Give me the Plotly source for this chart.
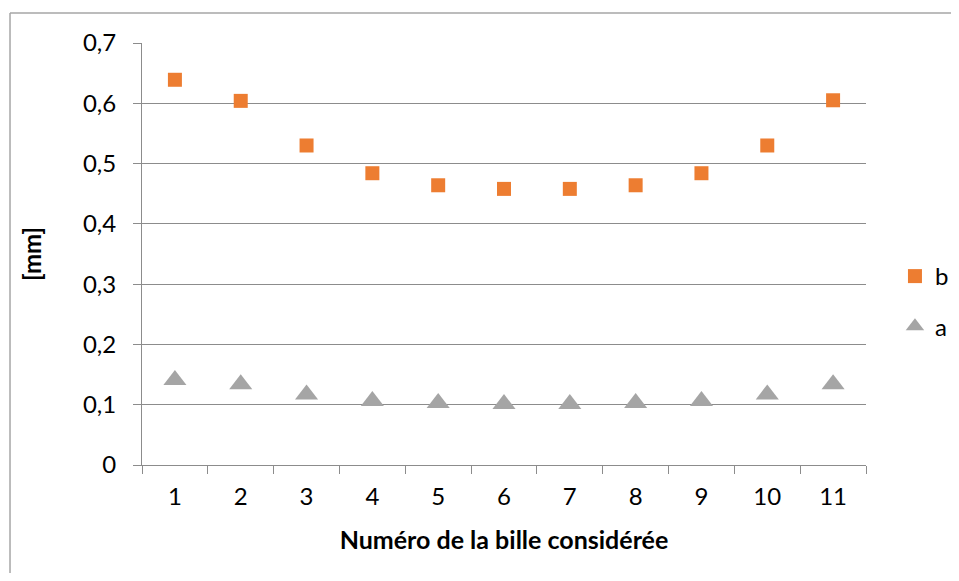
import plotly.graph_objects as go

# Numéro de bille (catégories) et mesures [mm]
billes = ["1", "2", "3", "4", "5", "6", "7", "8", "9", "10", "11"]
b_vals = [0.639, 0.604, 0.530, 0.484, 0.464, 0.458, 0.458, 0.464, 0.484, 0.530, 0.605]
a_vals = [0.141, 0.134, 0.117, 0.106, 0.103, 0.101, 0.101, 0.103, 0.106, 0.117, 0.134]

FONT = "Lato, 'Open Sans', sans-serif"
GRID = "#8c8c8c"
BORDER = "#a6a6a6"
FS = 24

fig = go.Figure()
fig.add_trace(go.Scatter(
    x=billes, y=b_vals, mode="markers", name="b", legendgroup="b",
    marker=dict(symbol="square", size=14, color="#ED7D31"),
))
fig.add_trace(go.Scatter(
    x=billes, y=a_vals, mode="markers", name="a", legendgroup="a",
    marker=dict(symbol="triangle-up", size=20, color="#A5A5A5"),
))

# chart-area border: only the top and left edges are inside the picture
border = dict(type="line", xref="paper", yref="paper",
              line=dict(color=BORDER, width=1.5), layer="below")

# page body has an 8px margin: keep the figure inside the window (no scrollbars)
fig.update_layout(
    width=943, height=565,
    margin=dict(l=134, r=85, t=35, b=108, autoexpand=False),
    paper_bgcolor="white", plot_bgcolor="white",
    separators=", ",
    font=dict(family=FONT, size=FS, color="#000000"),
    legend=dict(
        x=1.04, y=0.50, xanchor="left", yanchor="top",
        tracegroupgap=16, font=dict(size=FS),
        bgcolor="rgba(0,0,0,0)",
    ),
    shapes=[
        dict(border, x0=-0.1823, x1=1.6, y0=1.0711, y1=1.0711),
        dict(border, x0=-0.1823, x1=-0.1823, y0=-0.5, y1=1.0711),
    ],
)
fig.update_xaxes(
    type="category", range=[-0.5, len(billes) - 0.5],
    tickson="boundaries", ticks="outside", ticklen=8,
    tickcolor=GRID, showline=True, linecolor=GRID, linewidth=1,
    showgrid=False, zeroline=False, ticklabelstandoff=10, automargin=False,
    title=dict(text="<b>Numéro de la bille considérée</b>", standoff=22,
               font=dict(size=25)),
    tickfont=dict(size=FS),
)
fig.update_yaxes(
    range=[0, 0.7], dtick=0.1, tick0=0, ticks="outside", ticklen=8,
    tickcolor=GRID, showline=True, linecolor=GRID, linewidth=1,
    showgrid=True, gridcolor=GRID, gridwidth=1, zeroline=False,
    ticklabelstandoff=12, automargin=False,
    title=dict(text="<b>[mm]</b>", standoff=34, font=dict(size=FS)),
    tickfont=dict(size=FS),
)

fig.write_html("out.html")
